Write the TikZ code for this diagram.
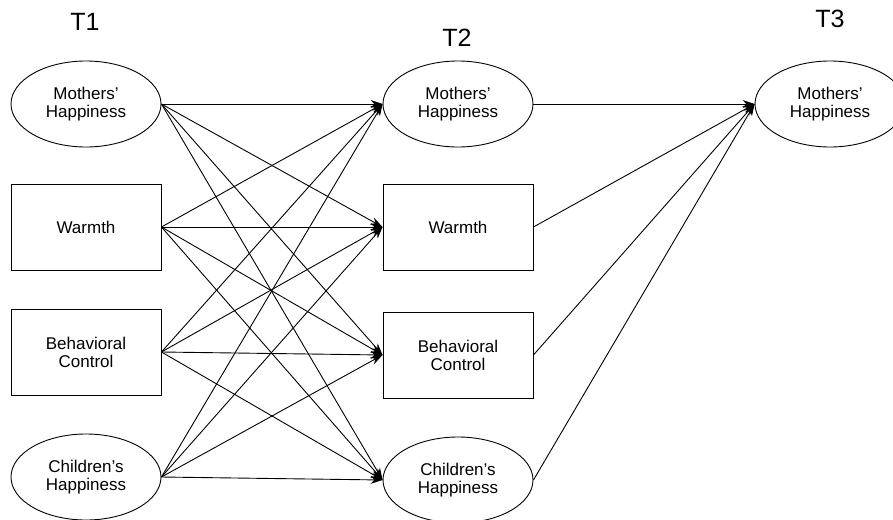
\documentclass[tikz,border=0pt]{standalone}
\usepackage{fontspec}
\setmainfont{Liberation Sans}
\usepackage{tikz}
\usetikzlibrary{shapes,arrows.meta,positioning,calc}

\begin{document}
\begin{tikzpicture}[
    x=1pt, y=-1pt,
    line width=0.9pt,
    latent/.style={ellipse, draw, minimum width=150pt, minimum height=86pt, inner sep=0pt, align=center, font=\fontsize{17}{18}\selectfont},
    observed/.style={rectangle, draw, minimum width=150pt, minimum height=86pt, inner sep=0pt, align=center, font=\fontsize{17}{18}\selectfont},
    effect/.style={-{Stealth[length=12pt, width=8pt]}},
    wave/.style={font=\fontsize{25}{28}\selectfont}
]
\useasboundingbox (0,0) rectangle (893,519);

% Waves
\node[wave] (t1) at (85,22) {T1};
\node[wave] (t2) at (457,38) {T2};
\node[wave] (t3) at (830,19) {T3};

% T1
\node[latent] (m1) at (86,104) {Mothers'\\Happiness};
\node[observed] (w1) at (86,227) {Warmth};
\node[observed] (b1) at (86,352) {Behavioral\\Control};
\node[latent] (c1) at (86,477) {Children's\\Happiness};

% T2
\node[latent] (m2) at (458,104) {Mothers'\\Happiness};
\node[observed] (w2) at (458,227) {Warmth};
\node[observed] (b2) at (458,355) {Behavioral\\Control};
\node[latent] (c2) at (458,480) {Children's\\Happiness};

% T3
\node[latent] (m3) at (830,104) {Mothers'\\Happiness};

% Cross-lagged paths
\foreach \a in {m1,w1,b1,c1}
  \foreach \b in {m2,w2,b2,c2}
    \draw[effect] (\a.east) -- (\b.west);

% Paths to T3
\foreach \b in {m2,w2,b2,c2}
  \draw[effect] (\b.east) -- (m3.west);

\end{tikzpicture}
\end{document}
